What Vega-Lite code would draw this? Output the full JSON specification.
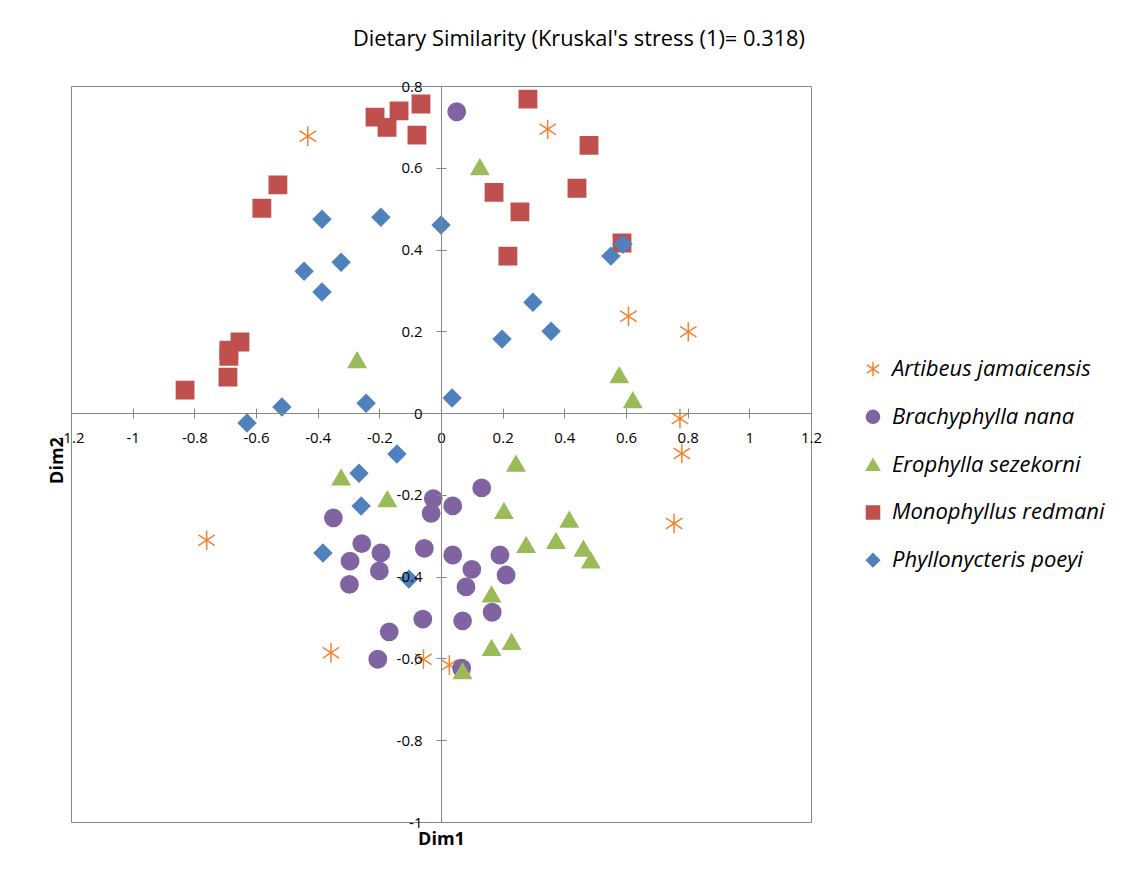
{
  "$schema": "https://vega.github.io/schema/vega-lite/v6.json",
  "width": 740,
  "height": 736,
  "autosize": {"type": "none"},
  "padding": {"left": 71, "top": 86, "right": 332, "bottom": 62},
  "background": "white",
  "title": {"text": "Dietary Similarity (Kruskal's stress (1)= 0.318)", "font": "Open Sans", "fontSize": 21.8, "fontWeight": "normal", "color": "#000000", "anchor": "middle", "dx": 138, "offset": 28},
  "data": {"values": [
    {"species": "Artibeus jamaicensis", "dim1": -0.432, "dim2": 0.677},
    {"species": "Artibeus jamaicensis", "dim1": 0.346, "dim2": 0.694},
    {"species": "Artibeus jamaicensis", "dim1": 0.608, "dim2": 0.237},
    {"species": "Artibeus jamaicensis", "dim1": 0.802, "dim2": 0.199},
    {"species": "Artibeus jamaicensis", "dim1": 0.775, "dim2": -0.013},
    {"species": "Artibeus jamaicensis", "dim1": 0.781, "dim2": -0.099},
    {"species": "Artibeus jamaicensis", "dim1": 0.756, "dim2": -0.270},
    {"species": "Artibeus jamaicensis", "dim1": -0.760, "dim2": -0.311},
    {"species": "Artibeus jamaicensis", "dim1": -0.357, "dim2": -0.586},
    {"species": "Artibeus jamaicensis", "dim1": -0.057, "dim2": -0.602},
    {"species": "Artibeus jamaicensis", "dim1": 0.027, "dim2": -0.616},
    {"species": "Brachyphylla nana", "dim1": 0.051, "dim2": 0.737},
    {"species": "Brachyphylla nana", "dim1": 0.132, "dim2": -0.183},
    {"species": "Brachyphylla nana", "dim1": -0.025, "dim2": -0.209},
    {"species": "Brachyphylla nana", "dim1": 0.038, "dim2": -0.227},
    {"species": "Brachyphylla nana", "dim1": -0.032, "dim2": -0.245},
    {"species": "Brachyphylla nana", "dim1": -0.349, "dim2": -0.256},
    {"species": "Brachyphylla nana", "dim1": -0.257, "dim2": -0.319},
    {"species": "Brachyphylla nana", "dim1": -0.195, "dim2": -0.342},
    {"species": "Brachyphylla nana", "dim1": -0.054, "dim2": -0.331},
    {"species": "Brachyphylla nana", "dim1": 0.038, "dim2": -0.347},
    {"species": "Brachyphylla nana", "dim1": 0.191, "dim2": -0.347},
    {"species": "Brachyphylla nana", "dim1": -0.295, "dim2": -0.362},
    {"species": "Brachyphylla nana", "dim1": -0.200, "dim2": -0.386},
    {"species": "Brachyphylla nana", "dim1": 0.100, "dim2": -0.382},
    {"species": "Brachyphylla nana", "dim1": 0.211, "dim2": -0.396},
    {"species": "Brachyphylla nana", "dim1": -0.297, "dim2": -0.419},
    {"species": "Brachyphylla nana", "dim1": 0.081, "dim2": -0.425},
    {"species": "Brachyphylla nana", "dim1": -0.059, "dim2": -0.504},
    {"species": "Brachyphylla nana", "dim1": 0.070, "dim2": -0.508},
    {"species": "Brachyphylla nana", "dim1": 0.166, "dim2": -0.487},
    {"species": "Brachyphylla nana", "dim1": -0.168, "dim2": -0.535},
    {"species": "Brachyphylla nana", "dim1": -0.205, "dim2": -0.602},
    {"species": "Brachyphylla nana", "dim1": 0.067, "dim2": -0.624},
    {"species": "Erophylla sezekorni", "dim1": 0.126, "dim2": 0.602},
    {"species": "Erophylla sezekorni", "dim1": -0.272, "dim2": 0.130},
    {"species": "Erophylla sezekorni", "dim1": 0.578, "dim2": 0.093},
    {"species": "Erophylla sezekorni", "dim1": 0.622, "dim2": 0.032},
    {"species": "Erophylla sezekorni", "dim1": -0.324, "dim2": -0.157},
    {"species": "Erophylla sezekorni", "dim1": -0.174, "dim2": -0.210},
    {"species": "Erophylla sezekorni", "dim1": 0.243, "dim2": -0.123},
    {"species": "Erophylla sezekorni", "dim1": 0.204, "dim2": -0.239},
    {"species": "Erophylla sezekorni", "dim1": 0.276, "dim2": -0.322},
    {"species": "Erophylla sezekorni", "dim1": 0.416, "dim2": -0.260},
    {"species": "Erophylla sezekorni", "dim1": 0.373, "dim2": -0.312},
    {"species": "Erophylla sezekorni", "dim1": 0.462, "dim2": -0.331},
    {"species": "Erophylla sezekorni", "dim1": 0.486, "dim2": -0.360},
    {"species": "Erophylla sezekorni", "dim1": 0.164, "dim2": -0.443},
    {"species": "Erophylla sezekorni", "dim1": 0.164, "dim2": -0.574},
    {"species": "Erophylla sezekorni", "dim1": 0.229, "dim2": -0.559},
    {"species": "Erophylla sezekorni", "dim1": 0.070, "dim2": -0.631},
    {"species": "Monophyllus redmani", "dim1": -0.214, "dim2": 0.724},
    {"species": "Monophyllus redmani", "dim1": -0.175, "dim2": 0.699},
    {"species": "Monophyllus redmani", "dim1": -0.136, "dim2": 0.739},
    {"species": "Monophyllus redmani", "dim1": -0.065, "dim2": 0.756},
    {"species": "Monophyllus redmani", "dim1": -0.078, "dim2": 0.680},
    {"species": "Monophyllus redmani", "dim1": 0.282, "dim2": 0.768},
    {"species": "Monophyllus redmani", "dim1": 0.480, "dim2": 0.655},
    {"species": "Monophyllus redmani", "dim1": 0.441, "dim2": 0.550},
    {"species": "Monophyllus redmani", "dim1": 0.172, "dim2": 0.540},
    {"species": "Monophyllus redmani", "dim1": 0.256, "dim2": 0.492},
    {"species": "Monophyllus redmani", "dim1": 0.217, "dim2": 0.384},
    {"species": "Monophyllus redmani", "dim1": 0.587, "dim2": 0.416},
    {"species": "Monophyllus redmani", "dim1": -0.529, "dim2": 0.558},
    {"species": "Monophyllus redmani", "dim1": -0.581, "dim2": 0.501},
    {"species": "Monophyllus redmani", "dim1": -0.652, "dim2": 0.174},
    {"species": "Monophyllus redmani", "dim1": -0.688, "dim2": 0.154},
    {"species": "Monophyllus redmani", "dim1": -0.688, "dim2": 0.139},
    {"species": "Monophyllus redmani", "dim1": -0.691, "dim2": 0.088},
    {"species": "Monophyllus redmani", "dim1": -0.830, "dim2": 0.056},
    {"species": "Phyllonycteris poeyi", "dim1": -0.386, "dim2": 0.474},
    {"species": "Phyllonycteris poeyi", "dim1": -0.444, "dim2": 0.347},
    {"species": "Phyllonycteris poeyi", "dim1": -0.386, "dim2": 0.296},
    {"species": "Phyllonycteris poeyi", "dim1": -0.324, "dim2": 0.369},
    {"species": "Phyllonycteris poeyi", "dim1": -0.195, "dim2": 0.479},
    {"species": "Phyllonycteris poeyi", "dim1": 0.000, "dim2": 0.460},
    {"species": "Phyllonycteris poeyi", "dim1": 0.551, "dim2": 0.384},
    {"species": "Phyllonycteris poeyi", "dim1": 0.590, "dim2": 0.413},
    {"species": "Phyllonycteris poeyi", "dim1": 0.298, "dim2": 0.271},
    {"species": "Phyllonycteris poeyi", "dim1": 0.198, "dim2": 0.181},
    {"species": "Phyllonycteris poeyi", "dim1": 0.357, "dim2": 0.200},
    {"species": "Phyllonycteris poeyi", "dim1": 0.036, "dim2": 0.037},
    {"species": "Phyllonycteris poeyi", "dim1": -0.243, "dim2": 0.024},
    {"species": "Phyllonycteris poeyi", "dim1": -0.516, "dim2": 0.015},
    {"species": "Phyllonycteris poeyi", "dim1": -0.629, "dim2": -0.024},
    {"species": "Phyllonycteris poeyi", "dim1": -0.143, "dim2": -0.100},
    {"species": "Phyllonycteris poeyi", "dim1": -0.266, "dim2": -0.147},
    {"species": "Phyllonycteris poeyi", "dim1": -0.259, "dim2": -0.227},
    {"species": "Phyllonycteris poeyi", "dim1": -0.383, "dim2": -0.342},
    {"species": "Phyllonycteris poeyi", "dim1": -0.104, "dim2": -0.406}
  ]},
  "layer": [
    {
      "mark": {"type": "point", "filled": true, "opacity": 1, "size": 300, "strokeWidth": 1.5},
      "encoding": {
        "x": {
          "field": "dim1", "type": "quantitative",
          "scale": {"domain": [-1.2, 1.2], "nice": false, "zero": false},
          "axis": {
            "orient": "bottom", "offset": -409,
            "values": [-1.2, -1, -0.8, -0.6, -0.4, -0.2, 0, 0.2, 0.4, 0.6, 0.8, 1, 1.2],
            "format": "~g",
            "grid": false, "domainColor": "#888888", "domainWidth": 1,
            "tickColor": "#888888", "tickSize": 5, "tickWidth": 1,
            "labelFont": "Open Sans", "labelFontSize": 15, "labelColor": "#000000", "labelPadding": 12,
            "labelFlush": false, "labelOverlap": false,
            "labelExpr": "replace(datum.label, '−', '-')",
            "title": "Dim1", "titleFont": "Open Sans", "titleFontSize": 18, "titleFontWeight": "bold", "titleColor": "#000000",
            "titlePadding": 385, "zindex": 1
          }
        },
        "y": {
          "field": "dim2", "type": "quantitative",
          "scale": {"domain": [-1, 0.8], "nice": false, "zero": false},
          "axis": {
            "orient": "left", "offset": -370,
            "values": [-1, -0.8, -0.6, -0.4, -0.2, 0, 0.2, 0.4, 0.6, 0.8],
            "format": "~g",
            "grid": false, "domainColor": "#888888", "domainWidth": 1,
            "tickColor": "#888888", "tickSize": 5, "tickWidth": 1,
            "labelFont": "Open Sans", "labelFontSize": 15, "labelColor": "#000000", "labelPadding": 14,
            "labelFlush": false, "labelOverlap": false,
            "labelExpr": "replace(datum.label, '−', '-')",
            "title": "Dim2", "titleFont": "Open Sans", "titleFontSize": 18, "titleFontWeight": "bold", "titleColor": "#000000",
            "titlePadding": 330, "titleY": 374, "zindex": 1
          }
        },
        "fill": {
          "field": "species", "type": "nominal",
          "scale": {"domain": ["Artibeus jamaicensis", "Brachyphylla nana", "Erophylla sezekorni", "Monophyllus redmani", "Phyllonycteris poeyi"],
                    "range": ["transparent", "#8064A2", "#9BBB59", "#C0504D", "#4F81BD"]},
          "legend": {"title": null, "orient": "none", "legendX": 791, "legendY": 272}
        },
        "stroke": {
          "field": "species", "type": "nominal",
          "scale": {"domain": ["Artibeus jamaicensis", "Brachyphylla nana", "Erophylla sezekorni", "Monophyllus redmani", "Phyllonycteris poeyi"],
                    "range": ["#F5822E", "#8064A2", "#9BBB59", "#C0504D", "#4F81BD"]},
          "legend": {"title": null, "orient": "none", "legendX": 791, "legendY": 272}
        },
        "shape": {
          "field": "species", "type": "nominal",
          "scale": {"domain": ["Artibeus jamaicensis", "Brachyphylla nana", "Erophylla sezekorni", "Monophyllus redmani", "Phyllonycteris poeyi"],
                    "range": ["M0,-1.12L0,1.12M-0.95,-0.62L0.95,0.62M-0.95,0.62L0.95,-0.62", "circle", "triangle-up", "square", "diamond"]},
          "legend": {"title": null, "orient": "none", "legendX": 791, "legendY": 272}
        }
      }
    },
    {
      "mark": {"type": "point", "opacity": 0},
      "encoding": {
        "x": {
          "field": "dim1", "type": "quantitative",
          "scale": {"domain": [-1.2, 1.2], "nice": false, "zero": false},
          "axis": {
            "orient": "top", "offset": -327,
            "values": [-1.2, -1, -0.8, -0.6, -0.4, -0.2, 0, 0.2, 0.4, 0.6, 0.8, 1, 1.2],
            "grid": false, "domain": false, "labels": false, "title": null,
            "tickColor": "#888888", "tickSize": 5, "tickWidth": 1, "zindex": 1
          }
        },
        "y": {
          "field": "dim2", "type": "quantitative",
          "scale": {"domain": [-1, 0.8], "nice": false, "zero": false},
          "axis": {
            "orient": "right", "offset": -370,
            "values": [-1, -0.8, -0.6, -0.4, -0.2, 0, 0.2, 0.4, 0.6, 0.8],
            "grid": false, "domain": false, "labels": false, "title": null,
            "tickColor": "#888888", "tickSize": 5, "tickWidth": 1, "zindex": 1
          }
        }
      }
    }
  ],
  "resolve": {"axis": {"x": "independent", "y": "independent"}},
  "config": {
    "view": {"stroke": "#888888", "strokeWidth": 1},
    "legend": {
      "symbolSize": 170, "symbolStrokeWidth": 1.5,
      "labelFont": "Open Sans", "labelFontSize": 22, "labelFontStyle": "italic", "labelColor": "#000000",
      "labelLimit": 400, "rowPadding": 25.8, "labelOffset": 8
    }
  }
}
